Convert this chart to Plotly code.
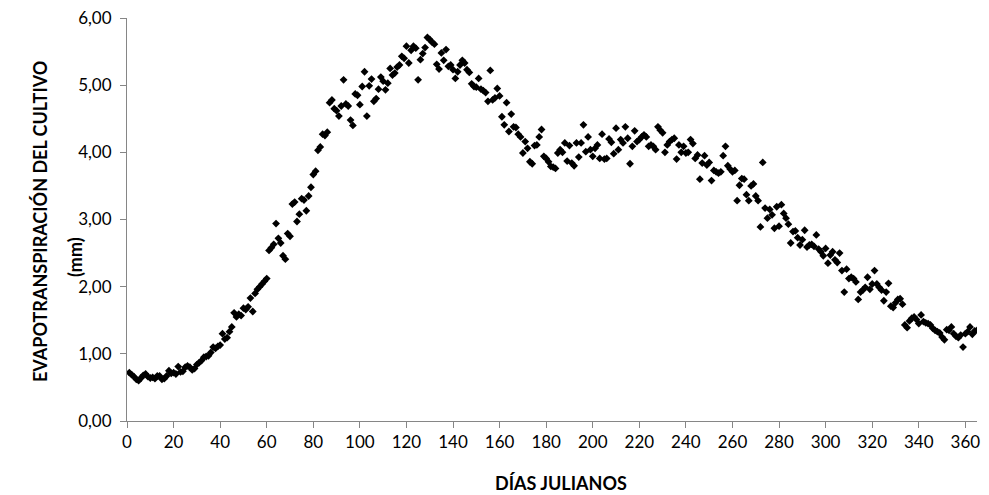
import plotly.graph_objects as go

# Daily crop evapotranspiration (mm), Julian days 1..365
et_01_60 = [0.72, 0.69, 0.66, 0.62, 0.60, 0.64, 0.68, 0.70, 0.66, 0.64,
            0.65, 0.63, 0.67, 0.67, 0.62, 0.63, 0.67, 0.75, 0.71, 0.72,
            0.70, 0.81, 0.73, 0.74, 0.80, 0.82, 0.80, 0.76, 0.78, 0.84,
            0.87, 0.90, 0.95, 0.96, 0.97, 1.02, 1.10, 1.08, 1.11, 1.13,
            1.30, 1.22, 1.24, 1.33, 1.40, 1.61, 1.55, 1.59, 1.57, 1.68,
            1.66, 1.70, 1.83, 1.63, 1.90, 1.96, 2.00, 2.04, 2.08, 2.12]
et_61_120 = [2.54, 2.58, 2.63, 2.94, 2.72, 2.65, 2.46, 2.41, 2.79, 2.75,
             3.23, 3.26, 2.97, 3.08, 3.31, 3.29, 3.13, 3.35, 3.48, 3.67,
             3.72, 4.03, 4.08, 4.27, 4.25, 4.30, 4.74, 4.78, 4.65, 4.62,
             4.54, 4.69, 5.08, 4.72, 4.69, 4.48, 4.40, 4.87, 4.85, 4.71,
             4.98, 5.20, 4.54, 4.99, 5.09, 4.76, 4.80, 4.94, 5.12, 5.06,
             4.93, 5.03, 5.25, 5.15, 5.18, 5.27, 5.30, 5.43, 5.40, 5.58]
et_121_180 = [5.33, 5.52, 5.58, 5.55, 5.08, 5.38, 5.47, 5.56, 5.71, 5.68,
              5.64, 5.61, 5.31, 5.24, 5.48, 5.37, 5.53, 5.28, 5.30, 5.23,
              5.10, 5.20, 5.30, 5.37, 5.33, 5.23, 5.19, 5.02, 4.98, 4.97,
              5.10, 4.94, 4.92, 4.89, 4.76, 5.22, 4.78, 4.81, 4.95, 4.84,
              4.53, 4.41, 4.74, 4.31, 4.57, 4.38, 4.37, 4.27, 4.23, 3.99,
              4.16, 4.06, 3.86, 3.83, 4.10, 4.11, 4.23, 4.34, 3.94, 3.91]
et_181_240 = [3.86, 3.79, 3.78, 3.76, 3.99, 4.04, 4.00, 4.14, 3.87, 4.10,
              3.84, 3.80, 4.14, 3.93, 4.14, 4.41, 4.01, 4.23, 4.04, 3.94,
              4.06, 4.11, 3.91, 4.27, 3.90, 3.91, 4.20, 4.15, 3.98, 4.36,
              4.04, 4.19, 4.14, 4.38, 4.21, 3.83, 4.09, 4.32, 4.16, 4.19,
              4.23, 4.26, 4.23, 4.09, 4.11, 4.09, 4.04, 4.38, 4.33, 4.29,
              4.00, 4.11, 4.16, 4.19, 4.21, 3.90, 4.11, 4.00, 4.09, 3.99]
et_241_300 = [4.00, 4.19, 4.13, 3.91, 3.96, 3.60, 3.84, 3.95, 3.81, 3.85,
              3.58, 3.73, 3.71, 3.69, 3.71, 3.95, 4.09, 3.80, 3.75, 3.71,
              3.73, 3.28, 3.51, 3.61, 3.60, 3.37, 3.28, 3.50, 3.53, 3.35,
              3.28, 2.89, 3.85, 3.17, 3.02, 3.15, 3.07, 2.87, 3.19, 2.90,
              3.22, 3.09, 3.02, 2.93, 2.65, 2.82, 2.83, 2.73, 2.62, 2.70,
              2.84, 2.59, 2.62, 2.63, 2.60, 2.77, 2.56, 2.52, 2.46, 2.57]
et_301_365 = [2.35, 2.47, 2.52, 2.40, 2.36, 2.50, 2.24, 1.92, 2.26, 2.12,
              2.14, 2.12, 2.07, 1.81, 1.92, 1.95, 1.99, 2.14, 1.96, 2.04,
              2.24, 2.04, 1.99, 1.95, 1.79, 1.92, 2.05, 1.71, 1.69, 1.76,
              1.81, 1.82, 1.74, 1.43, 1.39, 1.49, 1.53, 1.55, 1.51, 1.45,
              1.58, 1.48, 1.46, 1.45, 1.43, 1.38, 1.35, 1.33, 1.31, 1.25,
              1.21, 1.36, 1.35, 1.40, 1.30, 1.26, 1.24, 1.28, 1.10, 1.30,
              1.33, 1.40, 1.29, 1.34, 1.35]

et_values = et_01_60 + et_61_120 + et_121_180 + et_181_240 + et_241_300 + et_301_365
days = list(range(1, len(et_values) + 1))

x_ticks = list(range(0, 361, 20))
y_ticks = [0, 1, 2, 3, 4, 5, 6]
y_title_lines = ["EVAPOTRANSPIRACIÓN DEL CULTIVO", "(mm)"]
x_title = "DÍAS JULIANOS"

FONT = "Lato, 'Liberation Sans', sans-serif"
AXIS_COLOR = "#868686"
W, H = 989, 495
ML, MR, MT, MB = 127, 12, 18, 74

fig = go.Figure(
    go.Scatter(
        x=days, y=et_values, mode="markers",
        marker=dict(symbol="diamond", size=6, color="#000000", line=dict(width=0)),
        showlegend=False,
    )
)

fig.update_layout(
    width=W, height=H,
    margin=dict(l=ML, r=MR, t=MT, b=MB),
    paper_bgcolor="white", plot_bgcolor="white",
    separators=",.",
    font=dict(family=FONT, size=17, color="#000000"),
)

fig.update_xaxes(
    range=[0, 365], tickvals=x_ticks, ticks="outside", ticklen=6, tickcolor=AXIS_COLOR,
    showline=True, linecolor=AXIS_COLOR, linewidth=1, showgrid=False, zeroline=False,
    tickfont=dict(family=FONT, size=17, color="#000000"), automargin=False,
)
fig.update_yaxes(
    range=[0, 6], tickvals=y_ticks, tickformat=".2f", ticks="outside", ticklen=6,
    ticklabelstandoff=5,
    tickcolor=AXIS_COLOR, showline=True, linecolor=AXIS_COLOR, linewidth=1,
    showgrid=False, zeroline=False, automargin=False,
    tickfont=dict(family=FONT, size=17, color="#000000"),
)

plot_w = W - ML - MR
plot_h = H - MT - MB


def px_to_paper_x(px):
    return (px - ML) / plot_w


def px_to_paper_y(py):
    return (H - MB - py) / plot_h


# rotated y title: main line and "(mm)" placed as in the original
for (xpos, ypos), line in zip([(40, 222), (75, 257)], y_title_lines):
    fig.add_annotation(
        text="<b>" + line + "</b>", xref="paper", yref="paper",
        x=px_to_paper_x(xpos), y=px_to_paper_y(ypos), xanchor="center", yanchor="middle",
        textangle=-90, showarrow=False, font=dict(family=FONT, size=18, color="#000000"),
    )

fig.add_annotation(
    text="<b>" + x_title + "</b>", xref="paper", yref="paper",
    x=px_to_paper_x(561), y=px_to_paper_y(483), xanchor="center", yanchor="middle",
    showarrow=False, font=dict(family=FONT, size=18, color="#000000"),
)

fig.write_html("out.html")
